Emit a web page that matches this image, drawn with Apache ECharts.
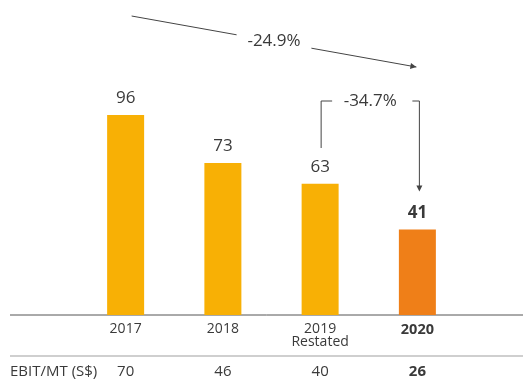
<!DOCTYPE html>
<html><head><meta charset="utf-8">
<script src="https://cdn.jsdelivr.net/npm/echarts@6/dist/echarts.min.js"></script>
<style>html,body{margin:0;padding:0;background:#fff}#c{width:523px;height:382px}</style>
</head><body><div id="c"></div>
<script>
const categories = ['2017', '2018', '2019\nRestated', '2020'];
const values = [96, 73, 63, 41];
const ebitLabels = ['70', '46', '40', '26'];
const rowTitle = 'EBIT/MT (S$)';
const changeAll = '-24.9%';
const changeLast = '-34.7%';

const FONT = '"Open Sans", Lato, sans-serif';
const TXT = '#3a3a3a';
const YEL = '#F8B005';
const ORA = '#EF7F18';

const chart = echarts.init(document.getElementById('c'));
const lastIdx = values.length - 1;
chart.setOption({
  animation: false,
  grid: { left: 77, right: 57, top: 65, bottom: 67 },
  xAxis: [{
    type: 'category', data: categories,
    axisLine: { show: false }, axisTick: { show: false },
    axisLabel: {
      margin: 8, color: TXT, fontFamily: FONT, fontSize: 14, lineHeight: 13,
      formatter: (v, i) => i === lastIdx ? '{b|' + v + '}' : v,
      rich: { b: { fontWeight: 'bold', fontSize: 14.5, color: TXT, fontFamily: FONT } }
    }
  }, {
    type: 'category', data: ebitLabels, position: 'bottom',
    axisLine: { show: false }, axisTick: { show: false },
    axisLabel: {
      margin: 49, color: TXT, fontFamily: FONT, fontSize: 15,
      formatter: (v, i) => i === lastIdx ? '{b|' + v + '}' : v,
      rich: { b: { fontWeight: 'bold', fontSize: 15, color: TXT, fontFamily: FONT } }
    }
  }],
  yAxis: { type: 'value', min: 0, max: 120, show: false },
  series: [{
    type: 'bar', barWidth: 37,
    data: values.map((v, i) => ({
      value: v,
      itemStyle: { color: i === lastIdx ? ORA : YEL },
      label: i === lastIdx ? { fontWeight: 'bold' } : {}
    })),
    label: { show: true, position: 'top', distance: 8, color: TXT, fontFamily: FONT, fontSize: 17 }
  }]
});

const p = (i, v) => chart.convertToPixel({ xAxisIndex: 0, yAxisIndex: 0 }, [i, v]);
const base = p(0, 0)[1];
const b0 = p(0, values[0]);
const bL = p(lastIdx, values[lastIdx]);
const bP = p(lastIdx - 1, values[lastIdx - 1]);
const lineStyle = { stroke: '#444', lineWidth: 1 };

const x1 = b0[0] + 6, y1 = 16, x2 = bL[0] - 1, y2 = 67;
const mx = (x1 + x2) / 2, my = (y1 + y2) / 2;
const dx = x2 - x1, dy = y2 - y1, len = Math.hypot(dx, dy);
const ux = dx / len, uy = dy / len, gap = 38;
const ang = Math.atan2(dy, dx);
function head(x, y, a) {
  const s = 6, w = 3;
  return [[x, y],
    [x - s * Math.cos(a) + w * Math.sin(a), y - s * Math.sin(a) - w * Math.cos(a)],
    [x - s * Math.cos(a) - w * Math.sin(a), y - s * Math.sin(a) + w * Math.cos(a)]];
}
const bx1 = bP[0] + 1, bx2 = bL[0] + 2, byTop = 101, byL = 148, byR = bL[1] - 38;
chart.setOption({
  graphic: [
    { type: 'line', shape: { x1: 10, y1: base, x2: 523, y2: base }, style: { stroke: '#555', lineWidth: 1 } },
    { type: 'line', shape: { x1: 10, y1: 356, x2: 523, y2: 356 }, style: { stroke: '#cfcfcf', lineWidth: 2 } },
    { type: 'text', x: 10, y: 372, style: { text: rowTitle, fill: TXT, font: '15px ' + FONT, verticalAlign: 'middle' } },
    { type: 'line', shape: { x1: x1, y1: y1, x2: mx - ux * gap, y2: my - uy * gap }, style: lineStyle },
    { type: 'line', shape: { x1: mx + ux * gap, y1: my + uy * gap, x2: x2, y2: y2 }, style: lineStyle },
    { type: 'polygon', shape: { points: head(x2, y2, ang) }, style: { fill: '#444' } },
    { type: 'text', x: mx, y: my, style: { text: changeAll, fill: TXT, font: '17px ' + FONT, align: 'center', verticalAlign: 'middle' } },
    { type: 'polyline', shape: { points: [[bx1, byL], [bx1, byTop], [bx1 + 11, byTop]] }, style: lineStyle },
    { type: 'polyline', shape: { points: [[bx2 - 7, byTop], [bx2, byTop], [bx2, byR - 5]] }, style: lineStyle },
    { type: 'polygon', shape: { points: head(bx2, byR, Math.PI / 2) }, style: { fill: '#444' } },
    { type: 'text', x: (bx1 + bx2) / 2, y: byTop, style: { text: changeLast, fill: TXT, font: '17px ' + FONT, align: 'center', verticalAlign: 'middle' } }
  ]
});
</script></body></html>
